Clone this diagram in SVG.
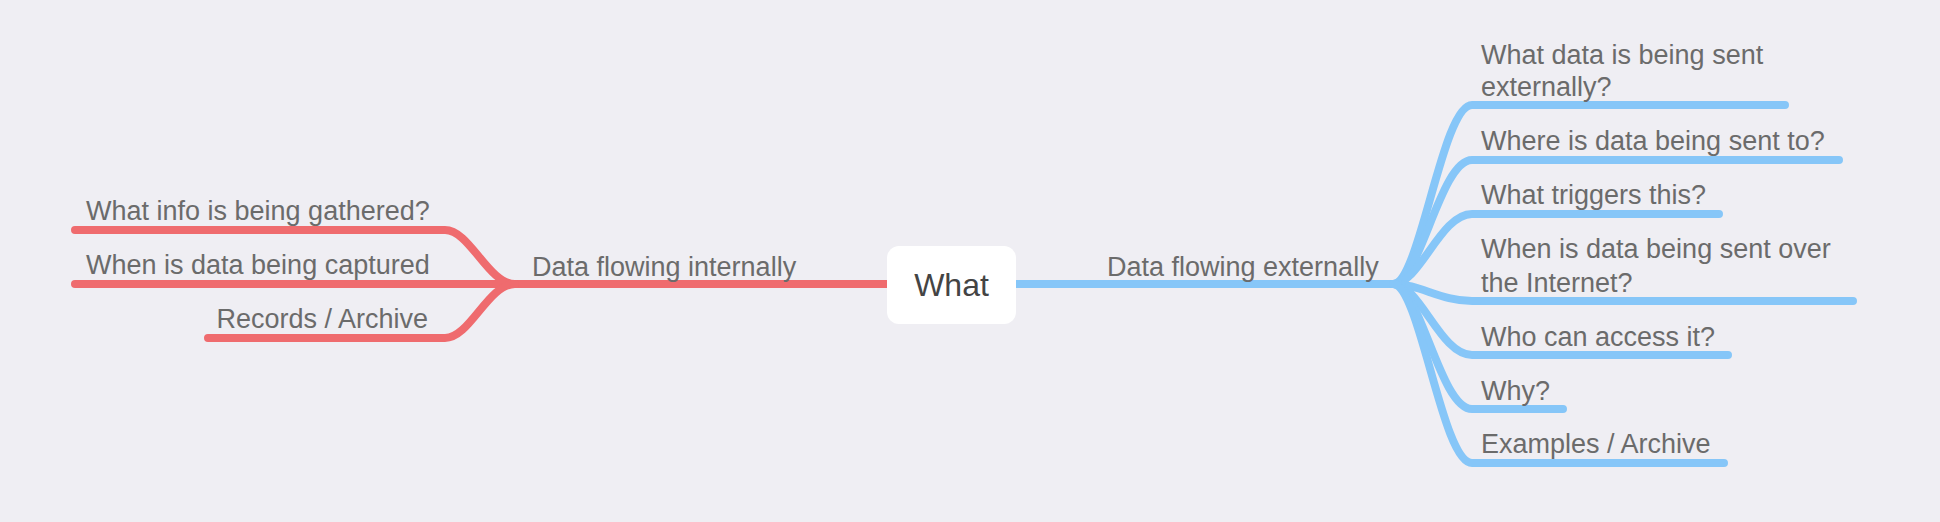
<svg xmlns="http://www.w3.org/2000/svg" width="1940" height="522" viewBox="0 0 1940 522">
<style>
.bg{fill:#EFEEF3}
.t{font-family:"Liberation Sans",Arial,sans-serif;font-size:27px;fill:#6b6b6b}
.c{font-family:"Liberation Sans",Arial,sans-serif;font-size:32px;fill:#444444}
.r{fill:none;stroke:#EF6B6E;stroke-width:8;stroke-linecap:round;stroke-linejoin:round}
.b{fill:none;stroke:#86C6F8;stroke-width:8;stroke-linecap:round;stroke-linejoin:round}
</style>
<rect class="bg" x="0" y="0" width="1940" height="522"/>
<g id="connectors">
<path class="r" d="M 510 284 L 890 284"/>
<path class="r" d="M 75 230 L 445 230 C 470 230, 488 284, 515 284"/>
<path class="r" d="M 75 284 L 515 284"/>
<path class="r" d="M 208 338 L 445 338 C 470 338, 488 284, 515 284"/>
<path class="b" d="M 1012 284 L 1396 284"/>
<path class="b" d="M 1393 284 C 1420 284, 1442 105, 1472 105 L 1785 105"/>
<path class="b" d="M 1393 284 C 1420 284, 1440 160, 1472 160 L 1839 160"/>
<path class="b" d="M 1393 284 C 1420 284, 1440 214, 1472 214 L 1719 214"/>
<path class="b" d="M 1393 284 C 1420 284, 1440 301, 1472 301 L 1853 301"/>
<path class="b" d="M 1393 284 C 1420 284, 1440 355, 1472 355 L 1728 355"/>
<path class="b" d="M 1393 284 C 1420 284, 1440 409, 1472 409 L 1563 409"/>
<path class="b" d="M 1393 284 C 1420 284, 1442 463, 1472 463 L 1724 463"/>
</g>
<g id="root">
<rect x="887" y="246" width="129" height="78" rx="12" fill="#FFFFFF"/>
<text class="c" x="951.5" y="296" text-anchor="middle">What</text>
</g>
<g id="internal">
<text class="t" x="532" y="276">Data flowing internally</text>
</g>
<g id="int-1"><text class="t" x="86" y="220">What info is being gathered?</text></g>
<g id="int-2"><text class="t" x="86" y="274">When is data being captured</text></g>
<g id="int-3"><text class="t" x="428" y="328" text-anchor="end">Records / Archive</text></g>
<g id="external">
<text class="t" x="1107" y="276">Data flowing externally</text>
</g>
<g id="ext-1"><text class="t" x="1481" y="64">What data is being sent</text><text class="t" x="1481" y="96">externally?</text></g>
<g id="ext-2"><text class="t" x="1481" y="150">Where is data being sent to?</text></g>
<g id="ext-3"><text class="t" x="1481" y="204">What triggers this?</text></g>
<g id="ext-4"><text class="t" x="1481" y="258">When is data being sent over</text><text class="t" x="1481" y="292">the Internet?</text></g>
<g id="ext-5"><text class="t" x="1481" y="346">Who can access it?</text></g>
<g id="ext-6"><text class="t" x="1481" y="400">Why?</text></g>
<g id="ext-7"><text class="t" x="1481" y="453">Examples / Archive</text></g>
</svg>
